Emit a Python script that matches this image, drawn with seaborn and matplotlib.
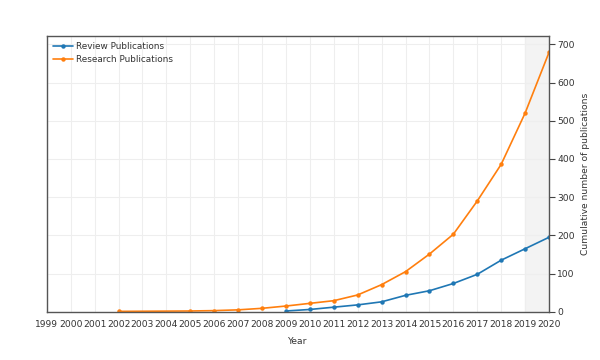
import numpy as np
import pandas as pd
import matplotlib
matplotlib.use("Agg")
import matplotlib.pyplot as plt
import seaborn as sns

# cumulative counts
review_years = [2009, 2010, 2011, 2012, 2013, 2014, 2015, 2016, 2017, 2018, 2019, 2020]
review_counts = [2, 6, 12, 18, 26, 43, 55, 74, 98, 135, 165, 195]

research_years = [2002, 2005, 2006, 2007, 2008, 2009, 2010, 2011, 2012, 2013,
                  2014, 2015, 2016, 2017, 2018, 2019, 2020]
research_counts = [1, 2, 3, 5, 9, 15, 22, 29, 44, 71, 105, 151, 203, 290, 386, 520, 679]

year_ticks = list(range(1999, 2021))
y_ticks = [0, 100, 200, 300, 400, 500, 600, 700]

df = pd.concat([
    pd.DataFrame({"Year": review_years, "Count": review_counts, "Series": "Review Publications"}),
    pd.DataFrame({"Year": research_years, "Count": research_counts, "Series": "Research Publications"}),
])

sns.set_style("white")
plt.rcParams["font.family"] = ["DejaVu Sans"]

fig = plt.figure(figsize=(6, 3.6), dpi=100)
ax = fig.add_axes([0.078, 0.134, 0.837, 0.766])

# highlighted last interval
ax.axvspan(2019, 2020, color="#f3f3f3", zorder=0)

sns.lineplot(data=df, x="Year", y="Count", hue="Series",
             palette=["#1f77b4", "#ff7f0e"], marker="o", markersize=3.2,
             markeredgewidth=0, linewidth=1.2, ax=ax, zorder=3)

ax.set_xlim(1999, 2020)
ax.set_ylim(0, 722)
ax.set_xticks(year_ticks)
ax.set_xticklabels([str(y) for y in year_ticks])
ax.set_yticks(y_ticks)

ax.grid(True, color="#eeeeee", linewidth=0.8)
ax.set_axisbelow(False)
for gl in ax.get_xgridlines() + ax.get_ygridlines():
    gl.set_zorder(1)

ax.yaxis.tick_right()
ax.yaxis.set_label_position("right")
ax.tick_params(axis="both", direction="out", length=4, width=0.8, color="#444444",
               labelsize=6.6, labelcolor="#333333", pad=2)
ax.tick_params(axis="y", right=True, left=False)

for s in ax.spines.values():
    s.set_visible(True)
    s.set_color("#555555")
    s.set_linewidth(1.0)
    s.set_zorder(6)

ax.set_xlabel("Year", fontsize=6.6, color="#333333", labelpad=6)
ax.set_ylabel("Cumulative number of publications", fontsize=6.6, color="#333333", labelpad=4)

leg = ax.legend(loc="upper left", frameon=False, fontsize=6.4, handlelength=2.2,
                handletextpad=0.4, borderaxespad=0.3, labelspacing=0.45,
                bbox_to_anchor=(0.0, 1.0))
for t in leg.get_texts():
    t.set_color("#333333")

fig.savefig("out.png", dpi=100, facecolor="white")
